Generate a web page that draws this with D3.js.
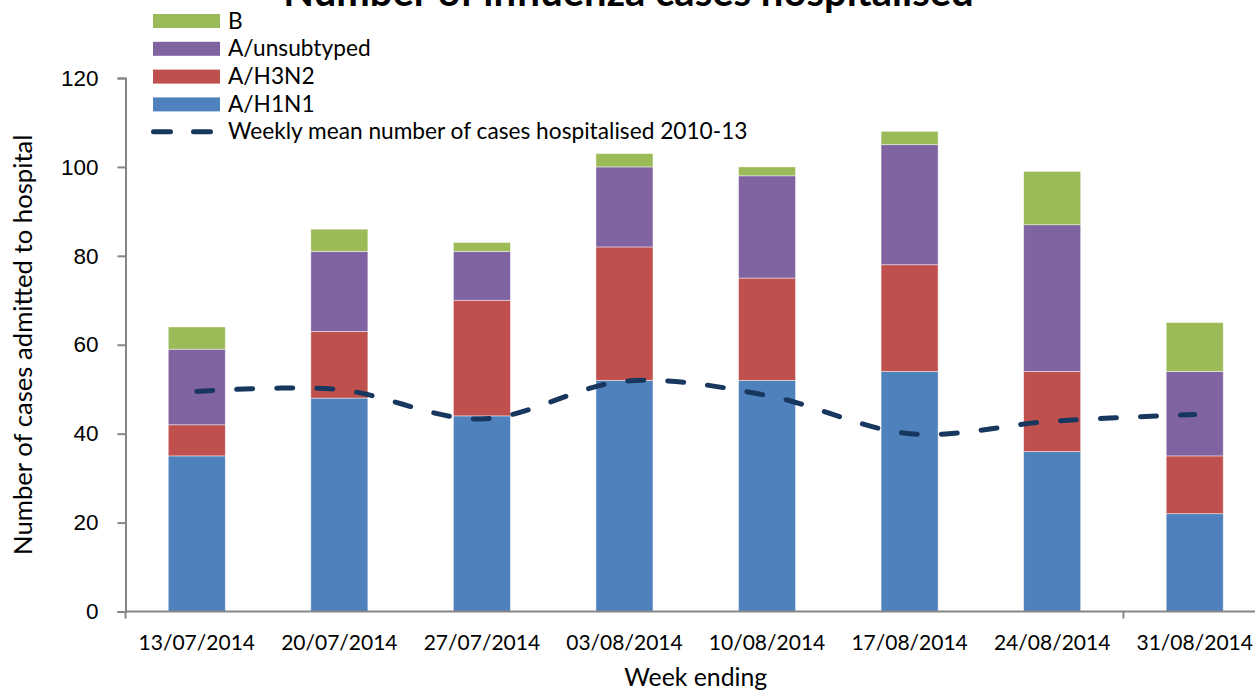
<!DOCTYPE html>
<html>
<head>
<meta charset="utf-8">
<script src="https://cdn.jsdelivr.net/npm/d3@7"></script>
<style>
  html, body { margin: 0; padding: 0; background: #ffffff; overflow: hidden; }
  svg { display: block; font-family: Lato, "Open Sans", sans-serif; }
</style>
</head>
<body>
<div id="chart"></div>
<script>
// chart values
const weeks = ["13/07/2014", "20/07/2014", "27/07/2014", "03/08/2014",
               "10/08/2014", "17/08/2014", "24/08/2014", "31/08/2014"];
const h1n1 = [35, 48, 44, 52, 52, 54, 36, 22];
const h3n2 = [7, 15, 26, 30, 23, 24, 18, 13];
const unsubtyped = [17, 18, 11, 18, 23, 27, 33, 19];
const typeB = [5, 5, 2, 3, 2, 3, 12, 11];
const weeklyMean = [49.5, 49.9, 43.3, 51.8, 48.6, 40.0, 42.8, 44.3];
const yTicks = [0, 20, 40, 60, 80, 100, 120];

const seriesNames = ["A/H1N1", "A/H3N2", "A/unsubtyped", "B"];
const seriesColors = ["#4F81BD", "#C0504D", "#8064A2", "#9BBB59"];
const lineLabel = "Weekly mean number of cases hospitalised 2010-13";
const lineColor = "#17375E";

const width = 1255, height = 693;
const margin = {top: 78, right: -11, bottom: 81.5, left: 125.5};
const plotW = width - margin.left - margin.right;
const plotH = height - margin.top - margin.bottom;
const tickFont = 21;
const legendFont = 22.7;

const svg = d3.select("#chart").append("svg")
    .attr("width", width)
    .attr("height", height);

// title, partly cut off at the top like in the original
svg.append("text")
    .attr("x", 628.5)
    .attr("y", 6)
    .attr("text-anchor", "middle")
    .style("font-weight", "bold")
    .style("font-size", "40px")
    .text("Number of influenza cases hospitalised");

const g = svg.append("g")
    .attr("transform", `translate(${margin.left},${margin.top})`);

const xScale = d3.scaleBand()
    .domain(weeks)
    .range([0, plotW])
    .paddingInner(0.6)
    .paddingOuter(0.3);

const yScale = d3.scaleLinear()
    .domain([0, 120])
    .range([plotH, 0]);

// stack the four series
const rows = weeks.map((w, i) => ({
    week: w,
    "A/H1N1": h1n1[i],
    "A/H3N2": h3n2[i],
    "A/unsubtyped": unsubtyped[i],
    "B": typeB[i]
}));
const stacked = d3.stack().keys(seriesNames)(rows);

g.selectAll(".series")
    .data(stacked)
    .enter().append("g")
    .attr("class", "series")
    .attr("fill", (d, i) => seriesColors[i])
    .selectAll("rect")
    .data(d => d)
    .enter().append("rect")
    .attr("x", d => xScale(d.data.week))
    .attr("y", d => yScale(d[1]))
    .attr("width", xScale.bandwidth())
    .attr("height", d => yScale(d[0]) - yScale(d[1]))
    .style("stroke", "rgba(255,255,255,0.55)")
    .style("stroke-width", "0.8px");

// y axis
const yAxis = g.append("g")
    .call(d3.axisLeft(yScale).tickValues(yTicks).tickSize(8).tickPadding(19).tickFormat(d3.format("d")));
yAxis.select(".domain").attr("stroke", "#868686").attr("stroke-width", 2);
yAxis.selectAll(".tick line").attr("stroke", "#868686").attr("stroke-width", 2);
yAxis.selectAll(".tick text")
    .style("font-size", "22.5px")
    .attr("fill", "#000");

// x axis: line plus ticks on category boundaries
const step = xScale.step();
g.append("line")
    .attr("x1", 0)
    .attr("x2", plotW)
    .attr("y1", plotH)
    .attr("y2", plotH)
    .attr("stroke", "#868686")
    .attr("stroke-width", 2);

g.selectAll(".xtick")
    .data([0, 7])
    .enter().append("line")
    .attr("class", "xtick")
    .attr("x1", d => d * step)
    .attr("x2", d => d * step)
    .attr("y1", plotH)
    .attr("y2", plotH + 7)
    .attr("stroke", "#868686")
    .attr("stroke-width", 2);

g.selectAll(".xlabel")
    .data(weeks)
    .enter().append("text")
    .attr("class", "xlabel")
    .attr("x", d => xScale(d) + xScale.bandwidth() / 2)
    .attr("y", plotH + 38.5)
    .attr("text-anchor", "middle")
    .style("font-size", tickFont + "px")
    .text(d => d);

// axis titles
g.append("text")
    .attr("x", plotW / 2)
    .attr("y", plotH + 74.5)
    .attr("text-anchor", "middle")
    .style("font-size", "24.8px")
    .text("Week ending");

svg.append("text")
    .attr("transform", `translate(32,${margin.top + plotH / 2}) rotate(-90)`)
    .attr("text-anchor", "middle")
    .style("font-size", "25.7px")
    .text("Number of cases admitted to hospital");

// weekly mean line
const line = d3.line()
    .x((d, i) => xScale(weeks[i]) + xScale.bandwidth() / 2)
    .y(d => yScale(d))
    .curve(d3.curveCardinal.tension(0));

g.append("path")
    .datum(weeklyMean)
    .attr("d", line)
    .attr("fill", "none")
    .attr("stroke", lineColor)
    .attr("stroke-width", 5)
    .attr("stroke-linecap", "round")
    .attr("stroke-dasharray", "16,24");

// legend
const legendItems = [
    {name: "B", color: seriesColors[3]},
    {name: "A/unsubtyped", color: seriesColors[2]},
    {name: "A/H3N2", color: seriesColors[1]},
    {name: "A/H1N1", color: seriesColors[0]}
];
const legend = svg.append("g").attr("transform", "translate(153,21)");
const rowH = 27.8;

const items = legend.selectAll(".item")
    .data(legendItems)
    .enter().append("g")
    .attr("class", "item")
    .attr("transform", (d, i) => `translate(0,${i * rowH})`);

items.append("rect")
    .attr("x", 0)
    .attr("y", -7)
    .attr("width", 67)
    .attr("height", 14)
    .attr("fill", d => d.color);

items.append("text")
    .attr("x", 75)
    .attr("y", 7.5)
    .style("font-size", legendFont + "px")
    .text(d => d.name);

const lineItem = legend.append("g")
    .attr("transform", `translate(0,${legendItems.length * rowH - 0.5})`);
lineItem.append("line")
    .attr("x1", 0.5)
    .attr("x2", 58)
    .attr("y1", 0)
    .attr("y2", 0)
    .attr("stroke", lineColor)
    .attr("stroke-width", 5)
    .attr("stroke-linecap", "round")
    .attr("stroke-dasharray", "17,23");
lineItem.append("text")
    .attr("x", 75)
    .attr("y", 7.5)
    .style("font-size", legendFont + "px")
    .text(lineLabel);
</script>
</body>
</html>
